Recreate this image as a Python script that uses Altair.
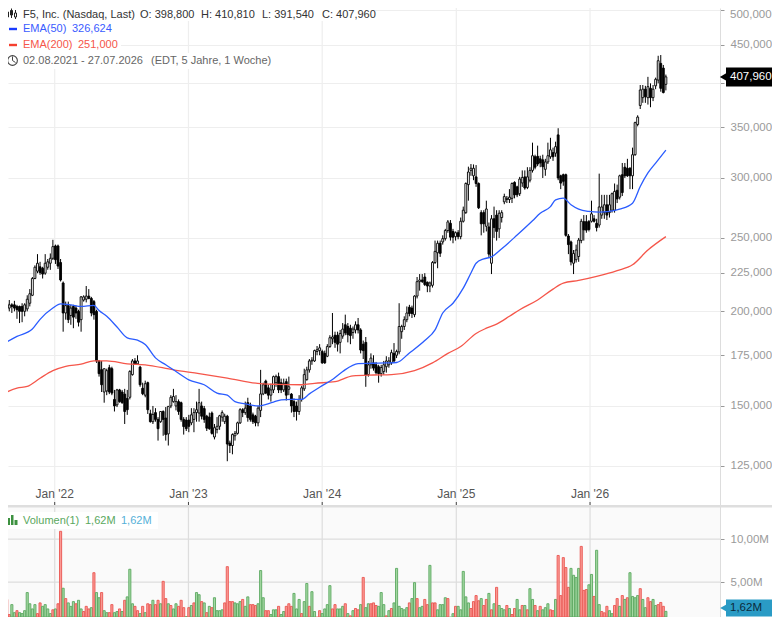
import altair as alt
import pandas as pd

opens = [
211,210,199,205,202,204,204,203,203,203,
200,201.5,205,210,221,226,229,228,224.6,228.7,
231.5,235,244,244,232,218,199,203.5,197.5,203,
202,200,195,207,207.5,209.5,208,206,200,172,
167.5,156.5,157,168.5,168,153,150.5,157.5,156.5,155.5,
153.5,154,165,172,170.5,168.8,158.3,155,161,146.5,
143,147,144,143,147.5,144.6,137.8,150,152,150,
152,151.5,144,143.7,143.7,142.5,144,147,146.8,150,
148.8,145.4,145,146.8,136.5,139.6,141,145,143,145.4,
134,133,137,138,142.5,148.3,147,151.5,150,146,
145.4,142.5,148,155.6,161.8,158.5,155,157.5,161,164,
161,157.5,161.5,157.8,155.5,152,150,147.5,153,158,
162.5,167.4,172,172,177,177.5,177,176,174.5,179.7,
184,186,186,182,185.5,192,191,190,187.5,189,
192,189,181,182,165,170,171,170,169,165.5,
166.6,169,170,171,176,175,176.8,188,191,195,
202.5,202,198,209.5,218.9,220,222,218.5,216,216.5,
232,239,246,247,249.5,255.7,261.4,255,251,254,
251,263,270,294,307,302,301,295,270,270,
259,258.5,231.5,265,268,257,266,279,281,281,
282,296,292,286,295.5,301,291.5,298,307,320,
320.4,318,317,308,315,320,324,323.5,342,302,
303,303,251.5,247,231.5,234,236.3,248,262.7,262.7,
262.7,263,265,261.4,260,268,270,276.5,270,272,
272,289,283,303,310,309,309,302,322,353,
374,383,393,383,394,383,397,404,425,419,
398.8]

highs = [
212,211,204.8,208,207,205,206.5,204,203.5,205,
205,210,214,222,230,238,232.5,229,238,234.5,
238.5,248.6,245,245,234.5,219,206,206,204,204,
203.5,201,209.5,210,216,214,209,207,201,172.5,
172,168,168,170,169,157.5,158,158,157.5,158,
157.5,167.2,173,173.5,175,169.5,161,162,161.5,148.3,
150,149,145,147.7,148,149.5,150,155,158,155,
153,152,145,145,146,149,149,152,158,152,
150,146,147,147.5,142,145,146,148,146.5,146,
135,138,139,143,149,149,152,153.8,151.5,147,
146,150,167.4,161,162.5,160,160.5,164.5,165,166,
163,163,163,164,156,153.5,152,155,159.5,168,
169,173,174,178,180,181,178,177.5,181,186,
199,188,188,189,193,198,193,192,191,194,
196,190,183,185,172,176,175,171.5,170,170,
172,174.5,174,178,181.6,178,205,192,197,203,
204,203.5,210,222,224,224,224.6,219,219,233,
248,248,248,252,257,264,264,257,255,256,
266,275,296,310.5,313,312.6,312,296,272,272,
280,262,268,275,272,272,272,286,284,290,
296,297,293,301,307,307,310,310,334,322,
331,321,322,318,334,339,329,335,349,303,
304,304,253,248,241,245,250,265,268,268,
264,280,268,265,304,285,285,285,285,287,
295,294,303,314,314,318,310,329,356,363,
398,398,397,408,400,398,407,435,436,423,
410.81]

lows = [
203,203,196,199,200,199,200,195.5,193,193.5,
197,200,203,209.5,220.5,224.6,223.5,221,223.5,227,
226.9,233.8,231,227.5,219,188,195,193,192,190,
195.5,191,188,206,205.5,207.5,197,195,171,164,
156.5,151.5,155,155.5,155,147.5,149.5,151.5,151,142,
146,153,164.5,170,170,159,155,154,146.4,142.6,
142,143,135,142.5,137,135,133,149,151.5,148,
146,143,137.5,139,138.5,141.5,138.5,143,143,144,
142.5,139,139.5,137.5,135.5,138,139.5,143,142,126.8,
130,129.5,135,137.5,142,145,146,143,143,142,
141,141,145,155,155.5,153,152,156,159,156,
156,156.5,152.5,155,147,145,143.5,146,152,157,
162,166,170,171.5,175,175,170.5,170.5,174,179,
181,179,177,176,184,186,182,181,184,187,
187,176,173,159,164,168,167,165,161,164,
165,166,168.5,170,171,173.5,175.5,184,189,193.5,
197,196,196.5,208,213,218,216,212,212,215,
231,228,236,245,248,254,248,246,248,249,
249,262,269,280,302,298,292,273,252,254,
255,236,224,250,248,250,262,277,278,278,
278,282,283,284,292,289.5,290,296,305,308,
311,310,300,302,313,318,316,320,298,290,
293,251,238,230,224,232,232.5,246,248,254,
255,262,262,255,258,265,265,264,266,270,
270,278,281,284,300,301,290,290,321,351,
370,377,377,375,372,379,393,400,390,388,
391.54]

closes = [
204,205,202.6,201,204,203,202,201,200,200,
204,207.5,211,221,228.7,231.5,225,224,231.5,232.5,
235,243.5,234,229.5,220,199,203.5,195,202,196.5,
199,193.5,209,209,209.5,208,199,198,172,165.5,
160,168,167,156.5,156,150,157.5,152,151.5,147.5,
148.3,166.6,172,170.5,172,160,155.7,160.5,148.3,143,
146.2,144,140,147.5,144,137.5,149.8,154,154.4,152,
147.5,144,140.9,140,141,146,147,148.3,151.5,145.4,
144,140.2,140,138,140.4,141,145.6,147,145.4,133.6,
133,137.5,138,142.5,148.3,147,149,144.8,144,143,
142.5,149,155.6,160,156,155,157.5,164,164,157.5,
157.5,160.7,155,159,150,147.5,147.5,153,158.5,165,
167.4,172,172.4,177.5,178,179,171,171,179.7,184.6,
185,182,181,187,189.5,187.3,186.3,185.8,189.5,192,
189,177.8,177.5,164.8,170,173.5,168.3,166,165.5,168.6,
170,172,172,176.4,172,177,191,191,195,199,
198.7,198.7,209.5,218.9,220,219,217,216,218,232,
240,246,238.6,249.5,255.7,262.5,250.6,250.6,254,251,
263,272,295,305.5,309,309,295,274,261,261,
273,238,265,258,255,269.5,270,283.5,282,283,
295,285,285,299,300.5,291,301,307,321,310,
313,314,310.5,315,321,326.8,320,330,300,295.4,
297,252,245,232.5,238.5,241,248.4,263,256.2,256,
256.5,269,263,258,274.7,274.7,276.5,268,276.5,286,
288,281.5,302,287,302,302,302,322,355,361,
392,393,384,396,383,393,405,428.5,394,389,
407.96]

volumes = [
1.6,1.6,1.36,3.0,1.25,2.4,1.47,1.7,1.47,1.36,
1.7,3.8,2.5,1.9,2.4,1.36,2.6,2.2,2.4,1.9,
1.36,1.8,1.9,2.5,10.9,4.3,3.1,2.6,2.2,2.75,
2.5,2.9,1.9,1.6,2.2,1.9,2.05,6.1,3.8,3.2,
3.8,1.7,1.47,1.47,2.4,1.47,1.6,1.9,1.6,2.9,
3.3,6.5,2.5,2.2,1.7,1.36,2.2,1.47,2.5,2.4,
2.9,2.4,2.9,2.5,5.1,3.1,2.5,2.3,1.9,2.5,
2.2,2.9,2.05,1.0,2.05,2.3,2.6,3.8,3.55,2.75,
2.6,1.47,2.2,2.05,3.2,1.7,1.7,1.8,2.6,6.8,
2.75,2.75,2.6,2.5,2.75,3.0,2.2,3.3,2.4,2.4,
2.3,2.5,6.35,3.2,1.7,1.7,1.25,1.8,1.8,2.2,
1.25,1.6,2.2,2.5,2.2,3.7,1.9,3.0,1.36,2.75,
4.85,2.2,3.9,1.6,0.9,1.7,1.36,1.9,2.4,4.6,
1.9,2.4,1.9,1.9,2.2,2.5,1.36,1.1,1.7,1.95,
1.8,2.4,5.55,2.05,2.5,2.5,2.6,2.3,2.2,3.8,
2.4,1.1,1.7,1.95,2.6,6.6,2.2,1.95,1.8,2.05,
2.6,3.1,4.95,3.1,2.05,2.2,3.0,2.4,6.95,2.6,
2.6,1.8,2.4,2.4,3.2,3.1,0.9,1.35,2.2,2.2,
1.8,6.25,3.3,2.6,1.95,2.75,3.45,2.85,3.1,2.3,
3.0,3.7,1.8,2.5,4.4,2.3,1.95,1.8,2.3,1.95,
1.25,1.95,3.0,1.8,2.3,2.3,1.8,4.25,3.0,2.3,
1.7,2.2,1.8,2.05,2.5,1.8,1.7,3.0,8.1,3.45,
7.85,6.7,4.4,6.6,5.8,5.55,6.6,9.15,4.05,4.15,
4.7,5.9,3.35,8.7,2.4,1.6,1.45,2.2,1.7,1.35,
2.3,3.1,2.2,3.45,3.0,3.2,6.1,3.35,3.2,3.45,
4.25,3.0,2.05,3.2,2.75,3.0,2.3,2.4,2.65,2.2,1.62]

volume_dirs = list(
    "rrgrrggrgg" "gggggrrggg" "grgrrgrggg" "rggrrrgrgg" "rggrrggrgr"
    "gggrrgrgrr" "grrgrrgrgg" "rrrgrgrggr" "grgrggggrr" "rrgggrggrr"
    "rgggrrgggr" "ggrrrgggrg" "grggrrgggg" "rrgggrgrgr" "rgrggrrrgg"
    "grgrgggggg" "rggrggrrgr" "rggggrggrg" "ggggrrrrgr" "rgrgrgggrg"
    "rrggrgrggr" "grgggrrgrr" "rrrggggrrr" "ggrggrrrgg" "rrgrgrgggg"
    "rggrrggrrrg")

ema50_weeks = [0,7,13,16,21,24,28,32,37,39,42,46,50,54,57,61,65,69,74,80,85,89,92,96,101,
               107,110,114,118,121,125,130,134,140,146,151,155,160,166,170,173,177,181,184,
               186,189,192,196,202,208,211,215,217,220,223,226,230,234,238,242,247,250,253,256,260]
ema50_vals = [179.7,185.3,189.5,195.2,202,204.6,204,203,203.7,200.5,197,190.7,184.5,183.2,180.8,173.6,170,166.6,162.4,160,156,155,152,151,150,
              151.8,152.8,153,153,155.6,158.8,162.6,166.6,170.6,170.8,171,171.2,176.2,183,189,199,205,214.6,224.7,
              231.5,234.6,236,241.9,252.2,263.4,269.5,275,280.7,282.1,276.6,272.9,271,270.4,271,272.9,277.9,292.3,304.6,313.9,326.6]

ema200_weeks = [0,7,11,16,21,26,32,37,42,50,57,68,78,89,102,108,118,123,131,138,146,153,162,169,
                175,180,186,190,194,199,203,210,216,220,226,233,241,247,253,260]
ema200_vals = [154.7,158.4,159.2,163.2,167,169.2,170.3,172,172,170.5,170,167.4,165.5,163.3,160.5,160.2,160,160.7,161.5,164.4,164.8,165,167,171,
               176,179.7,187,190,192.4,197,201,207,214,217.9,219.7,222.4,226.4,230.4,241,251]

year_dates = ["2022-01-01", "2023-01-01", "2024-01-01", "2025-01-01", "2026-01-01"]
year_labels = ["Jan '22", "Jan '23", "Jan '24", "Jan '25", "Jan '26"]
price_ticks = [125, 150, 175, 200, 225, 250, 300, 350, 400, 450, 500]
volume_ticks = [5, 10]

assert all(len(a) == 261 for a in (opens, highs, lows, closes, volumes, volume_dirs))

START = pd.Timestamp("2021-08-02")


def week_date(i):
    return (START + pd.Timedelta(days=7 * i)).strftime("%Y-%m-%dT%H:%M:%S")


dates = [week_date(i) for i in range(261)]
df = pd.DataFrame({"date": dates, "o": opens, "h": highs, "l": lows, "c": closes,
                   "vol": volumes, "vdir": volume_dirs})
df["up"] = df["c"] > df["o"]
ema50 = pd.DataFrame({"date": [week_date(i) for i in ema50_weeks], "v": ema50_vals})
ema200 = pd.DataFrame({"date": [week_date(i) for i in ema200_weeks], "v": ema200_vals})
years = pd.DataFrame({"date": year_dates, "label": year_labels})

FONT = "Liberation Sans"
PW, PH, TOTAL_H = 712, 497, 609
x_scale = alt.Scale(domain=[week_date(3.5), week_date(281.1)], type="time", nice=False, padding=0)
price_scale = alt.Scale(type="log", domain=[111.0, 503.0], nice=False, range=[PH, 0])
vol_scale = alt.Scale(domain=[0.965, 13.95], nice=False, range=[TOTAL_H, PH])

# 400,000 sits under the last-price tag; 500,000 is written lower so the page edge does not cut it
price_axis = alt.Axis(orient="right", values=price_ticks, title=None,
                      labelExpr="(datum.value==400||datum.value==500)?'':replace(format(datum.value,'.3f'),'.',',')",
                      labelColor="#9a9a9a", labelFontSize=11.5, labelFont=FONT, labelPadding=6,
                      tickColor="#999999", tickSize=4, domainColor="#dddddd",
                      grid=True, gridColor="#eeeeee", gridWidth=1.2)
vol_axis = alt.Axis(orient="right", values=volume_ticks, title=None,
                    labelExpr="replace(format(datum.value,'.2f'),'.',',')+'M'",
                    labelColor="#9a9a9a", labelFontSize=11.5, labelFont=FONT, labelPadding=6,
                    tickColor="#999999", tickSize=4, domainColor="#dddddd", grid=False)


def X(f="date:T"):
    return alt.X(f, scale=x_scale, axis=None)


def YP(f, axis=None):
    return alt.Y(f, scale=price_scale, axis=axis)


def YV(f, axis=None):
    return alt.Y(f, scale=vol_scale, axis=axis, stack=None)


def seg(x1, y1, x2, y2, color, w=1.0):
    return alt.Chart(df.head(1)).mark_rule(color=color, strokeWidth=w).encode(
        x=alt.value(x1), x2=alt.value(x2), y=alt.value(y1), y2=alt.value(y2))


def box(x1, y1, x2, y2, color="#ffffff", stroke=None):
    kw = {"stroke": stroke, "strokeWidth": 1} if stroke else {}
    return alt.Chart(df.head(1)).mark_rect(color=color, **kw).encode(
        x=alt.value(x1), x2=alt.value(x2), y=alt.value(y1), y2=alt.value(y2))


def label(x, y, text, color, size=11, align="left"):
    return alt.Chart(pd.DataFrame({"t": [text]})).mark_text(
        font=FONT, fontSize=size, color=color, align=align, baseline="middle"
    ).encode(x=alt.value(x), y=alt.value(y), text="t:N")


def px(v):
    return v - 8


def py(v):
    return v - 8


layers = []
# volume panel background and grid
layers.append(box(0, PH, PW, TOTAL_H, "#fafafa"))
layers.append(alt.Chart(pd.DataFrame({"v": volume_ticks})).mark_rule(color="#dddddd", strokeWidth=1.2).encode(
    x=alt.value(0), x2=alt.value(PW), y=YV("v:Q")))
layers.append(alt.Chart(years).mark_rule(color="#eeeeee", strokeWidth=1.2).encode(x=X(), y=alt.value(0), y2=alt.value(PH)))
layers.append(alt.Chart(years).mark_rule(color="#dddddd", strokeWidth=1.2).encode(x=X(), y=alt.value(PH), y2=alt.value(TOTAL_H)))

# candles
layers.append(alt.Chart(df).mark_rule(color="#000000", strokeWidth=1, clip=True).encode(x=X(), y=YP("h:Q", price_axis), y2="l:Q"))
layers.append(alt.Chart(df[~df["up"]]).mark_bar(size=1.9, color="#000000", stroke="#000000", strokeWidth=0.9, clip=True).encode(x=X(), y=YP("o:Q"), y2="c:Q"))
layers.append(alt.Chart(df[df["up"]]).mark_bar(size=1.9, color="#ffffff", stroke="#000000", strokeWidth=0.9, clip=True).encode(x=X(), y=YP("o:Q"), y2="c:Q"))
layers.append(alt.Chart(ema200).mark_line(color="#f5564a", strokeWidth=1.3, clip=True, interpolate="monotone").encode(x=X(), y=YP("v:Q")))
layers.append(alt.Chart(ema50).mark_line(color="#2a5cff", strokeWidth=1.3, clip=True, interpolate="monotone").encode(x=X(), y=YP("v:Q")))

# volume bars
layers.append(alt.Chart(df).mark_bar(size=2.1, strokeWidth=0.9, clip=True).encode(
    x=X(), y=YV("vol:Q", vol_axis),
    color=alt.Color("vdir:N", legend=None, scale=alt.Scale(domain=["r", "g"], range=["#fb9c96", "#a5d8a3"])),
    stroke=alt.Stroke("vdir:N", legend=None, scale=alt.Scale(domain=["r", "g"], range=["#ea5550", "#5aa860"]))))

# separator between the panels, time axis labels and ticks
layers.append(seg(0, py(506.3), 772, py(506.3), "#dedede", 2.6))
layers.append(alt.Chart(years).mark_text(font=FONT, fontSize=12, color="#555555", baseline="middle").encode(x=X(), y=alt.value(py(494)), text="label:N"))
layers.append(alt.Chart(years).mark_rule(color="#444444", strokeWidth=1).encode(x=X(), y=alt.value(py(502)), y2=alt.value(PH)))

# legend boxes
layers.append(box(0, 0, px(375), py(21)))
layers.append(box(0, py(21), px(121), py(53)))
layers.append(box(0, py(53), px(276), py(69)))
layers.append(box(px(5), py(512), px(158), py(529)))

# legend texts
for x, t in [(23, "F5, Inc. (Nasdaq, Last)"), (140, "O: 398,800"), (201, "H: 410,810"),
             (262, "L: 391,540"), (322, "C: 407,960")]:
    layers.append(label(px(x), py(14.5), t, "#333333"))
layers.append(label(px(23), py(29), "EMA(50)", "#3a5cff"))
layers.append(label(px(72), py(29), "326,624", "#3a5cff"))
layers.append(label(px(23), py(45), "EMA(200)", "#f5564a"))
layers.append(label(px(78), py(45), "251,000", "#f5564a"))
layers.append(label(px(23), py(61), "02.08.2021 - 27.07.2026", "#666666"))
layers.append(label(px(151), py(61), "(EDT, 5 Jahre, 1 Woche)", "#666666"))
layers.append(label(px(23), py(521), "Volumen(1)", "#5aa860"))
layers.append(label(px(85), py(521), "1,62M", "#5aa860"))
layers.append(label(px(121), py(521), "1,62M", "#55b0d8"))
layers.append(label(px(730), py(15), "500,000", "#9a9a9a", size=11.5))

# legend icons
layers.append(seg(px(9), py(29), px(17), py(29), "#1a3cff", 2.4))
layers.append(seg(px(9), py(45), px(17), py(45), "#f5402f", 2.4))
for cx, top, bot, b1, b2 in [(7.5, 9, 19, 12, 17), (11.5, 8.5, 18, 10.5, 15), (15.5, 10, 19, 13, 17)]:
    layers.append(seg(px(cx), py(top), px(cx), py(bot), "#222222", 1))
    layers.append(box(px(cx - 1), py(b1), px(cx + 1), py(b2), "#ffffff" if cx != 11.5 else "#222222", "#222222"))
layers.append(alt.Chart(df.head(1)).mark_point(shape="circle", filled=False, stroke="#444444", strokeWidth=1.1, size=95, opacity=1).encode(x=alt.value(px(12.5)), y=alt.value(py(60.5))))
layers.append(seg(px(12.5), py(56.5), px(12.5), py(60.5), "#444444", 1))
layers.append(seg(px(12.5), py(60.5), px(15.5), py(62.5), "#444444", 1))
layers.append(box(px(7.5), py(518), px(10), py(525), "#3d9140"))
layers.append(box(px(11), py(515), px(13.5), py(525), "#3d9140"))
layers.append(box(px(14.5), py(520), px(17.5), py(525), "#3d9140"))

# last value tags
price_tag = pd.DataFrame({"v": [407.96], "t": ["407,960"]})
layers.append(alt.Chart(price_tag).mark_rule(color="#000000", strokeWidth=19).encode(x=alt.value(px(726)), x2=alt.value(px(780)), y=YP("v:Q")))
layers.append(alt.Chart(price_tag).mark_point(shape="triangle-left", filled=True, color="#000000", size=170, opacity=1).encode(x=alt.value(px(725.5)), y=YP("v:Q")))
layers.append(alt.Chart(price_tag).mark_text(font=FONT, fontSize=11.5, color="#ffffff", align="left", baseline="middle").encode(x=alt.value(px(730)), y=YP("v:Q"), text="t:N"))

TAG_Y = py(608)
vol_tag = pd.DataFrame({"t": ["1,62M"]})
layers.append(alt.Chart(vol_tag).mark_rule(color="#2a9bc5", strokeWidth=17).encode(x=alt.value(px(726)), x2=alt.value(px(780)), y=alt.value(TAG_Y)))
layers.append(alt.Chart(vol_tag).mark_point(shape="triangle-left", filled=True, color="#2a9bc5", size=150, opacity=1).encode(x=alt.value(px(725.5)), y=alt.value(TAG_Y)))
layers.append(alt.Chart(vol_tag).mark_text(font=FONT, fontSize=11.5, color="#0c2a3a", align="left", baseline="middle").encode(x=alt.value(px(730)), y=alt.value(TAG_Y), text="t:N"))

chart = alt.layer(*layers).resolve_scale(y="independent").properties(
    width=PW, height=TOTAL_H,
    padding={"left": 0, "top": 0, "right": 52, "bottom": 0},
    autosize=alt.AutoSizeParams(type="none"),
    view=alt.ViewConfig(stroke=None),
)

chart.save("out.html", embed_options={"renderer": "svg", "actions": False})
